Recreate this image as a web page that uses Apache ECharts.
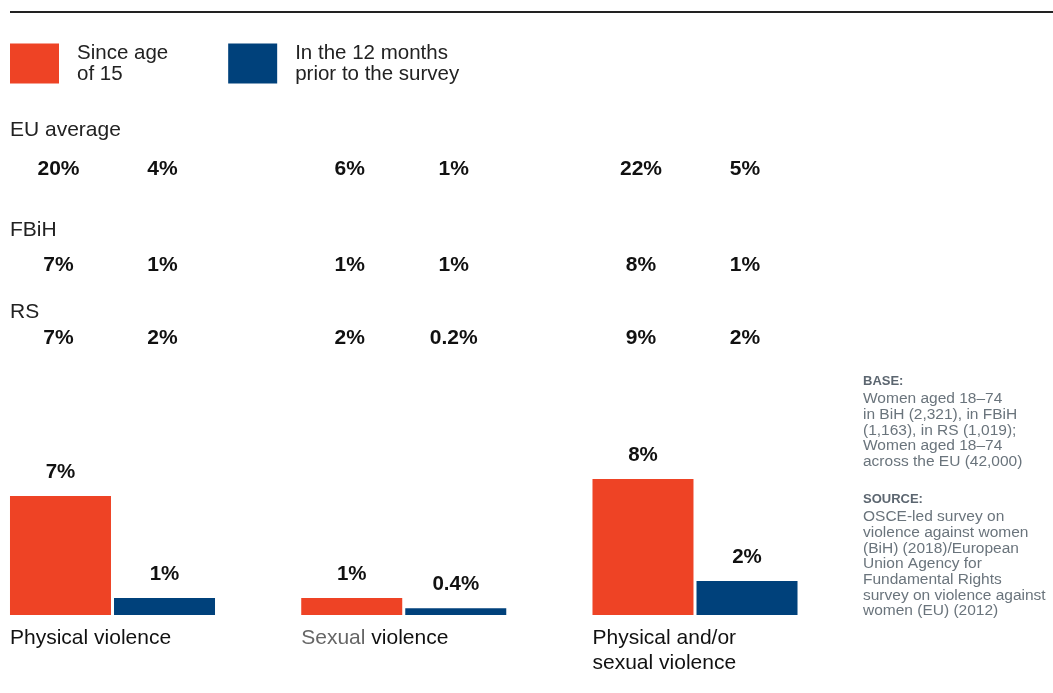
<!DOCTYPE html>
<html>
<head>
<meta charset="utf-8">
<script src="https://cdn.jsdelivr.net/npm/echarts@6/dist/echarts.min.js"></script>
<style>
  html, body { margin: 0; padding: 0; background: #fff; }
  #chart { width: 1053px; height: 693px; }
</style>
</head>
<body>
<div id="chart"></div>
<script>
// Violence categories shown as bar groups
const categories = ['Physical violence', 'Sexual violence', 'Physical and/or\nsexual violence'];
// Series names (legend)
const seriesNames = ['Since age\nof 15', 'In the 12 months\nprior to the survey'];
// BiH prevalence, %
const sinceAge15 = [7, 1, 8];
const last12Months = [1, 0.4, 2];
// Comparison rows: [since 15, last 12 months] per category
const rowNames = ['EU average', 'FBiH', 'RS'];
const euAverage = [[20, 4], [6, 1], [22, 5]];
const fbih = [[7, 1], [1, 1], [8, 1]];
const rs = [[7, 2], [2, 0.2], [9, 2]];
const notes = [
  { title: 'BASE:', lines: ['Women aged 18\u201374', 'in BiH (2,321), in FBiH', '(1,163), in RS (1,019);', 'Women aged 18\u201374', 'across the EU (42,000)'] },
  { title: 'SOURCE:', lines: ['OSCE-led survey on', 'violence against women', '(BiH) (2018)/European', 'Union Agency for', 'Fundamental Rights', 'survey on violence against', 'women (EU) (2012)'] }
];

const FONT = '"Liberation Sans", Arial, Helvetica, sans-serif';
const ORANGE = '#EE4325';
const BLUE = '#00417B';
const BAR_W = 101;

const chart = echarts.init(document.getElementById('chart'), null, { renderer: 'canvas' });

const pct = v => v + '%';

const barLabel = {
  show: true, position: 'top', distance: 13, formatter: p => pct(p.value),
  fontFamily: FONT, fontSize: 20.5, fontWeight: 'bold', color: '#111'
};

const option = {
  animation: false,
  backgroundColor: '#fff',
  textStyle: { fontFamily: FONT },
  color: [ORANGE, BLUE],
  legend: {
    left: 10, top: 42, padding: 0,
    itemWidth: 49, itemHeight: 40, itemGap: 60,
    icon: 'rect',
    selectedMode: false,
    textStyle: { fontFamily: FONT, fontSize: 20.5, lineHeight: 21, color: '#222', padding: [1, 0, 0, 13] },
    data: seriesNames
  },
  // category centres sit on the grid edges
  grid: { left: 112.5, right: 358, top: 275, bottom: 78 },
  xAxis: {
    type: 'category',
    boundaryGap: false,
    data: categories,
    axisLine: { show: false }, axisTick: { show: false }, axisLabel: { show: false }
  },
  yAxis: {
    type: 'value', min: 0, max: 20,
    show: false, splitLine: { show: false }
  },
  series: [
    { name: seriesNames[0], type: 'bar', data: sinceAge15, clip: false,
      barWidth: BAR_W, barGap: '3%', label: barLabel },
    { name: seriesNames[1], type: 'bar', data: last12Months, clip: false,
      barWidth: BAR_W, barGap: '3%', label: barLabel }
  ]
};
chart.setOption(option);

// Build the comparison table, category labels and notes around the bars
function buildGraphics() {
  const els = [];
  // rule at the top
  els.push({ type: 'line', shape: { x1: 10, y1: 12, x2: 1053, y2: 12 }, style: { stroke: '#222', lineWidth: 2 } });

  const centers = categories.map(c => chart.convertToPixel({ xAxisIndex: 0 }, c));
  const half = (BAR_W + 3) / 2;

  const rows = [euAverage, fbih, rs];
  const rowLabelY = [130, 230, 312];
  const rowValueY = [169, 265, 338];
  rows.forEach((row, r) => {
    els.push({ type: 'text', x: 10, y: rowLabelY[r],
      style: { text: rowNames[r], fontFamily: FONT, fontSize: 21, fill: '#222', verticalAlign: 'middle' } });
    row.forEach((pair, i) => {
      pair.forEach((v, k) => {
        const cx = centers[i] + (k === 0 ? -half : half) - 2;
        els.push({ type: 'text', x: cx, y: rowValueY[r],
          style: { text: pct(v), fontFamily: FONT, fontSize: 21, fontWeight: 'bold', fill: '#111',
                   align: 'center', verticalAlign: 'middle' } });
      });
    });
  });

  // category names under each group, left-aligned with the first bar
  categories.forEach((c, i) => {
    const left = centers[i] - half - BAR_W / 2;
    const rich = c.replace(/^Sexual/, '{g|Sexual}');
    els.push({ type: 'text', x: left, y: 626,
      style: { text: rich, fontFamily: FONT, fontSize: 21, lineHeight: 25, fill: '#111',
               align: 'left', verticalAlign: 'top',
               rich: { g: { fill: '#666', fontFamily: FONT, fontSize: 21, lineHeight: 25 } } } });
  });

  // base and source notes
  const noteTop = [375, 493];
  notes.forEach((n, j) => {
    els.push({ type: 'text', x: 863, y: noteTop[j],
      style: { text: n.title, fontFamily: FONT, fontSize: 13, fontWeight: 'bold', fill: '#5C6670', verticalAlign: 'top' } });
    els.push({ type: 'text', x: 863, y: noteTop[j] + 16,
      style: { text: n.lines.join('\n'), fontFamily: FONT, fontSize: 15.5, lineHeight: 15.7, fill: '#6A747C', verticalAlign: 'top' } });
  });
  return els;
}

chart.setOption({ graphic: { elements: buildGraphics() } });
</script>
</body>
</html>
